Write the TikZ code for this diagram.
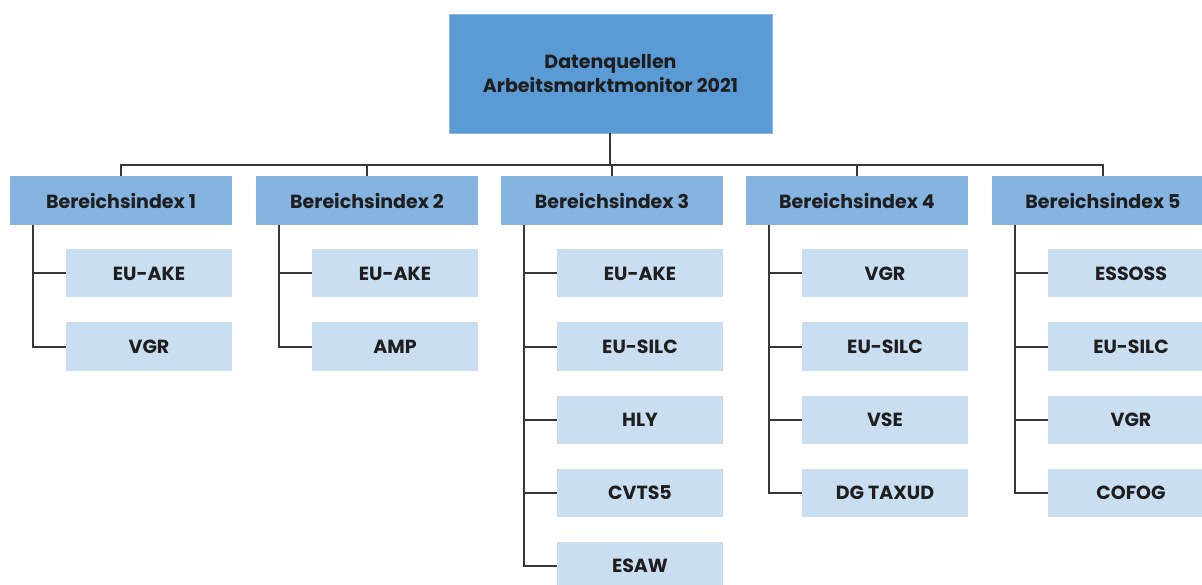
\documentclass[tikz,border=0pt]{standalone}
\usepackage{fontspec}
\setmainfont{Poppins}
\definecolor{topblue}{RGB}{91,155,213}
\definecolor{midblue}{RGB}{134,180,225}
\definecolor{leafblue}{RGB}{202,222,241}
\definecolor{linegray}{RGB}{55,55,55}
\definecolor{txt}{RGB}{30,30,30}
\begin{document}
\begin{tikzpicture}[x=1pt,y=-1pt,
  topbox/.style={fill=topblue,draw=topblue!70!white,line width=0.6pt,minimum width=323pt,minimum height=119pt,inner sep=0pt,align=center,text=txt,font=\fontsize{19}{24}\selectfont\bfseries},
  midbox/.style={fill=midblue,minimum width=222pt,minimum height=49pt,inner sep=0pt,text=txt,font=\fontsize{19}{22}\selectfont\bfseries},
  leafbox/.style={fill=leafblue,minimum width=166pt,minimum height=48pt,inner sep=0pt,text=txt,font=\fontsize{19}{22}\selectfont\bfseries},
  conn/.style={draw=linegray,line width=2pt}]
\useasboundingbox (0,0) rectangle (1202,585);
\clip (0,0) rectangle (1202,585);
\fill[white] (0,0) rectangle (1202,585);
\node[topbox] (top) at (610.5,73.5) {Datenquellen\\Arbeitsmarktmonitor 2021};
\coordinate (bus) at (610,165);
% level 2
\foreach \i/\cx in {1/121,2/367,3/612,4/857,5/1103}{
  \node[midbox] (b\i) at (\cx,200.5) {Bereichsindex \i};
  \draw[conn] (top.south -| bus) -- (bus) -- (bus -| b\i.north) -- (b\i.north);
}
% leaves
\foreach \g/\list in {1/{EU-AKE,VGR},2/{EU-AKE,AMP},3/{EU-AKE,EU-SILC,HLY,CVTS5,ESAW},4/{VGR,EU-SILC,VSE,DG TAXUD},5/{ESSOSS,EU-SILC,VGR,COFOG}}{
  \foreach \t [count=\k] in \list {
    \pgfmathsetmacro{\yy}{273.5+73*(\k-1)}
    \node[leafbox,anchor=west] (l\g-\k) at ([xshift=56pt]b\g.west |- 0,\yy) {\t};
    \draw[conn] ([xshift=23pt]b\g.south west) |- (l\g-\k.west);
  }
}
\end{tikzpicture}
\end{document}
